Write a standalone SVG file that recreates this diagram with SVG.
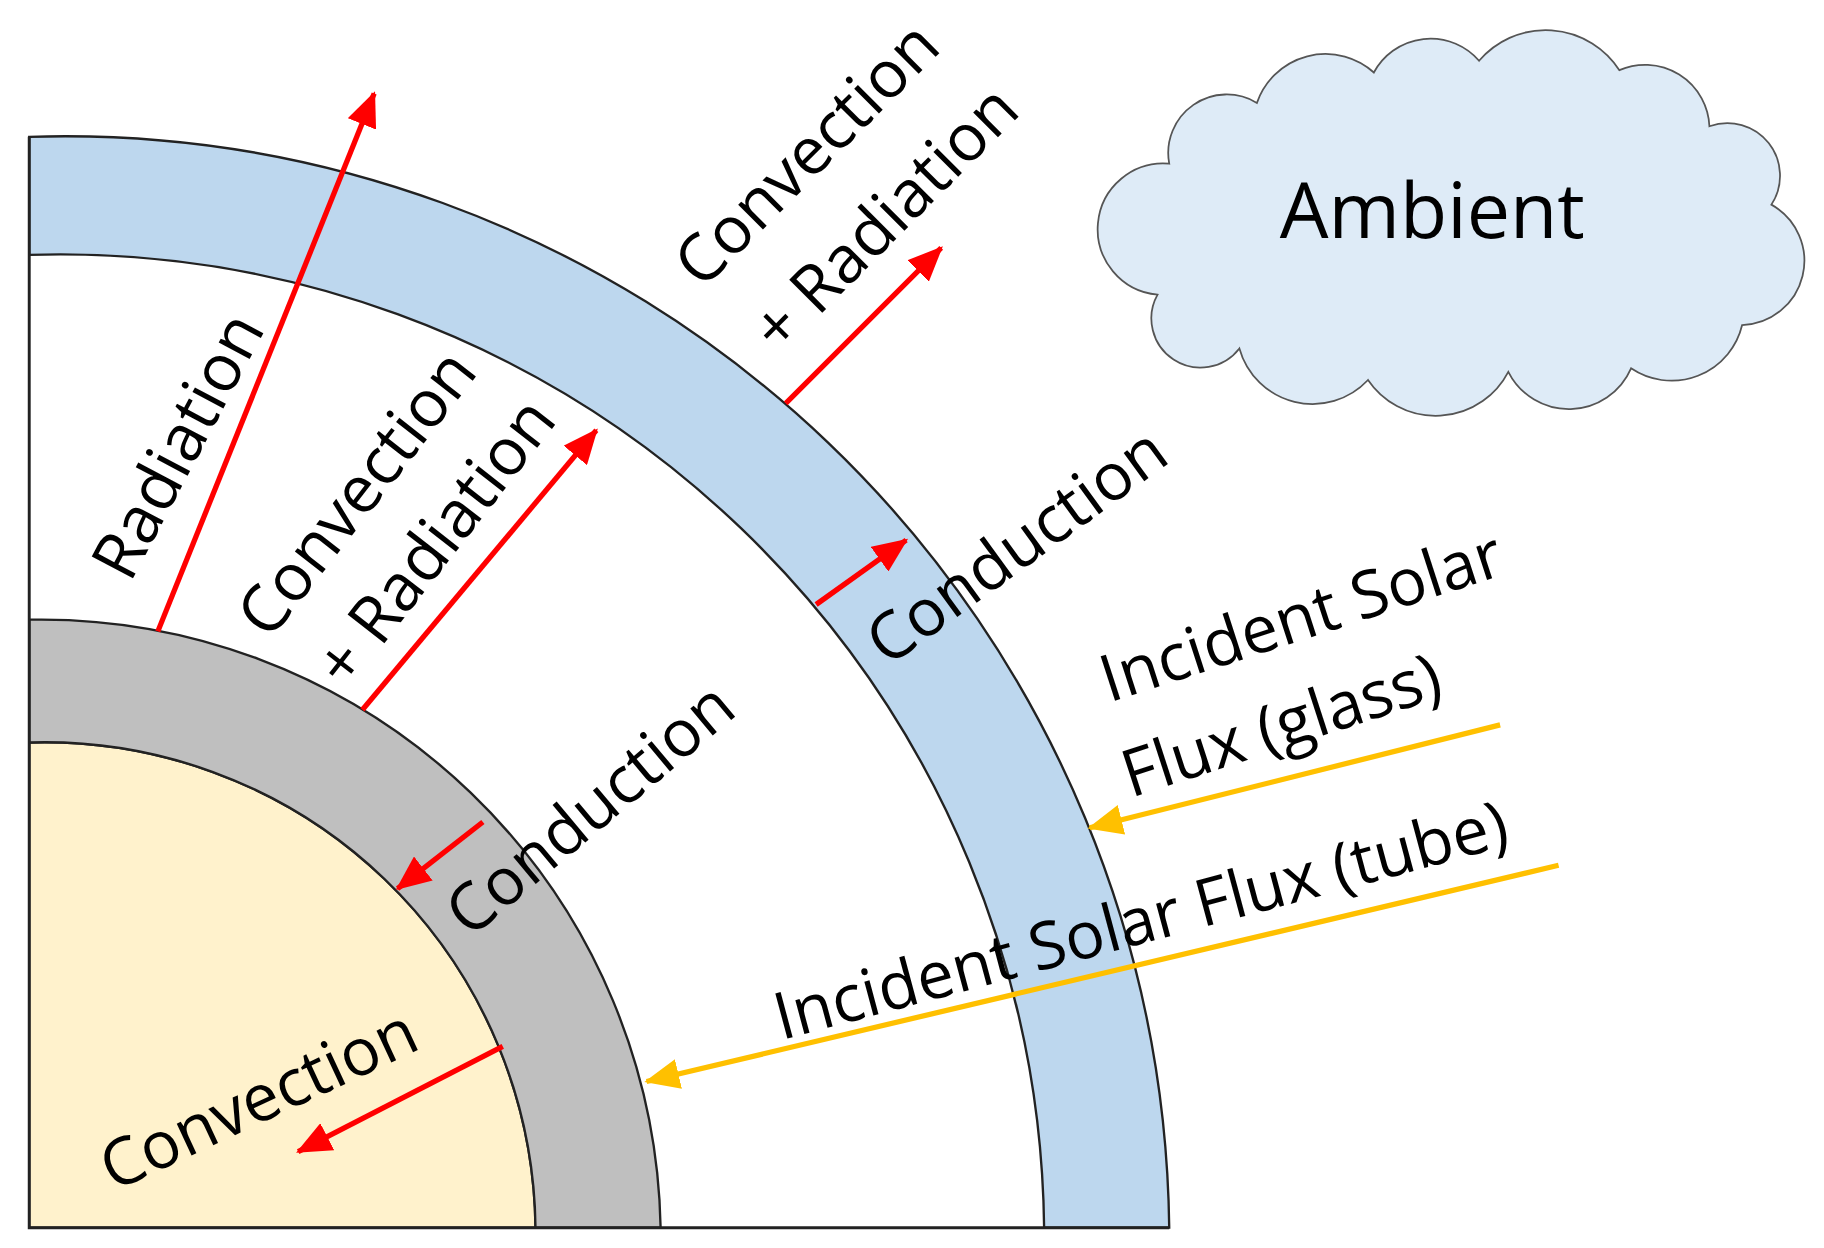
<svg xmlns="http://www.w3.org/2000/svg" width="1824" height="1248" viewBox="0 0 1824 1248">
<defs>
<style>
.lbl{font-family:"Open Sans","Noto Sans","DejaVu Sans",sans-serif;font-size:56px;fill:#000;text-anchor:middle;dominant-baseline:central}
.red{stroke:#ff0000;stroke-width:4.5;fill:none;marker-end:url(#hr)}
.yel{stroke:#ffc000;stroke-width:4.5;fill:none;marker-end:url(#hy)}
.edge{stroke:#222;stroke-width:2}
</style>
<marker id="hr" markerUnits="userSpaceOnUse" markerWidth="30" markerHeight="26" viewBox="0 0 30 26" refX="28" refY="13" orient="auto"><path d="M0,0 L30,13 L0,26 Z" fill="#ff0000"/></marker>
<marker id="hy" markerUnits="userSpaceOnUse" markerWidth="30" markerHeight="26" viewBox="0 0 30 26" refX="28" refY="13" orient="auto"><path d="M0,0 L30,13 L0,26 Z" fill="#ffc000"/></marker>
</defs>
<rect width="1824" height="1248" fill="#fff"/>
<g transform="scale(1.16923)">
<g id="core"><path class="edge" d="M25,635 A420,420 0 0 1 458,1050 L25,1050 Z" fill="#fff2cc"/></g>
<g id="tube"><path class="edge" d="M25,530 A530,530 0 0 1 565,1050 L458,1050 A420,420 0 0 0 25,635 Z" fill="#bfbfbf"/></g>
<g id="glass"><path class="edge" d="M25,117 A945,945 0 0 1 1000,1050 L893,1050 A842,842 0 0 0 25,218 Z" fill="#bdd7ee"/></g>
<g id="frame"><path d="M25,117 L25,1050 L1000,1050" fill="none" stroke="#222" stroke-width="2.5"/></g>
<g id="ambient">
<path d="M1000,140 A50,50 0 0 1 1075,88 A62,62 0 0 1 1175,62 A55,55 0 0 1 1265,52 A75,75 0 0 1 1385,60 A55,55 0 0 1 1462,108 A45,45 0 0 1 1515,175 A55,55 0 0 1 1490,278 A62,62 0 0 1 1395,315 A58,58 0 0 1 1290,318 A70,70 0 0 1 1170,325 A65,65 0 0 1 1060,298 A42,42 0 0 1 990,252 A36,36 0 0 1 1000,140 Z" fill="#deebf7" stroke="#555" stroke-width="1.5"/>
<text class="lbl" x="1225" y="178" style="font-size:66px">Ambient</text>
</g>
<g id="connectors">
<line class="red" x1="135" y1="540" x2="320" y2="80"/>
<line class="red" x1="310" y1="607" x2="510" y2="368"/>
<line class="red" x1="672" y1="345" x2="805" y2="212"/>
<line class="red" x1="698" y1="517" x2="775" y2="462"/>
<line class="red" x1="413" y1="703" x2="340" y2="760"/>
<line class="red" x1="430" y1="895" x2="255" y2="985"/>
<line class="yel" x1="1283" y1="620" x2="932" y2="708"/>
<line class="yel" x1="1333" y1="740" x2="553" y2="925"/>
</g>
<g id="labels">
<text class="lbl" transform="translate(150,380) rotate(-62)">Radiation</text>
<text class="lbl" transform="translate(303,420) rotate(-52)">Convection</text>
<text class="lbl" transform="translate(370,462) rotate(-52)">+ Radiation</text>
<text class="lbl" transform="translate(688,130) rotate(-45)">Convection</text>
<text class="lbl" transform="translate(755,185) rotate(-45)">+ Radiation</text>
<text class="lbl" transform="translate(868,465) rotate(-36)">Conduction</text>
<text class="lbl" transform="translate(503,690) rotate(-40)">Conduction</text>
<text class="lbl" transform="translate(220,938) rotate(-25)">Convection</text>
<text class="lbl" transform="translate(1112,525) rotate(-18)">Incident Solar</text>
<text class="lbl" transform="translate(1095,618) rotate(-18)">Flux (glass)</text>
<text class="lbl" transform="translate(975,785) rotate(-15)">Incident Solar Flux (tube)</text>
</g>
</g>
</svg>
